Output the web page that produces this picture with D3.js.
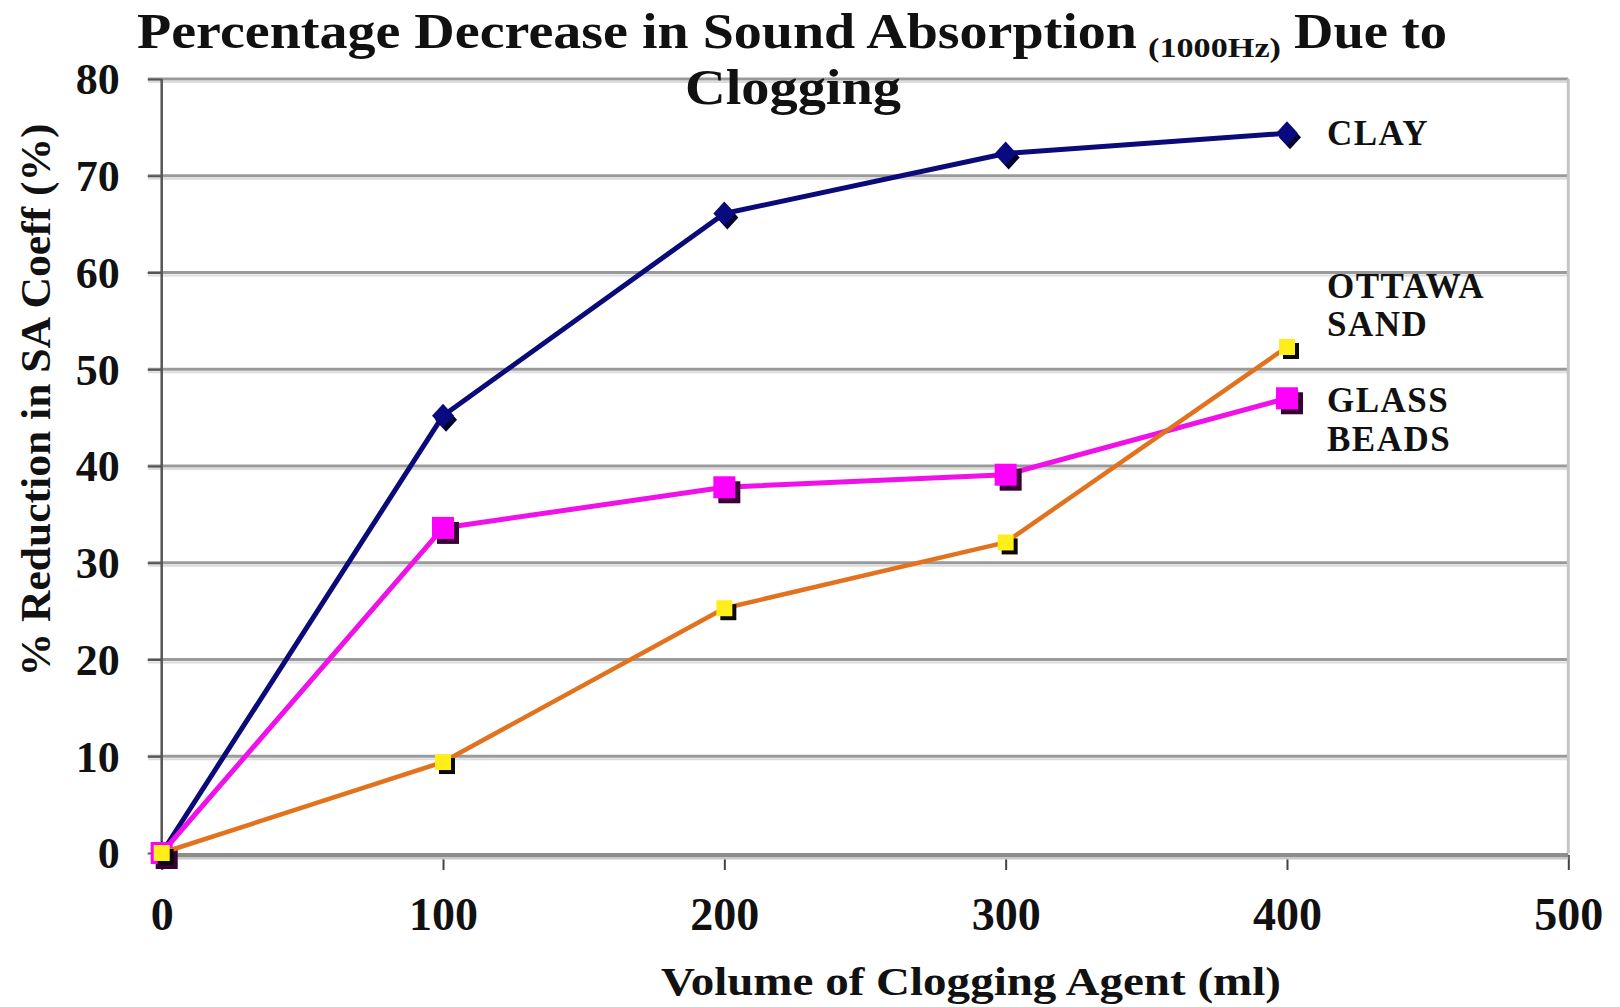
<!DOCTYPE html>
<html>
<head>
<meta charset="utf-8">
<script src="https://cdnjs.cloudflare.com/ajax/libs/d3/7.8.5/d3.min.js"></script>
<style>
    body { margin: 0; background: #fff; }
    svg text { font-family: "Liberation Serif", "Times New Roman", serif; font-weight: bold; fill: #111; }
</style>
</head>
<body>
<div id="vis"></div>
<script>
// Data
var volumes = [0, 100, 200, 300, 400];
var clay = [0, 45.2, 66.1, 72.3, 74.4];
var glassBeads = [0, 33.6, 37.8, 39.1, 47.0];
var ottawaSand = [0, 9.4, 25.3, 32.1, 52.3];
var xTicks = [0, 100, 200, 300, 400, 500];
var yTicks = [0, 10, 20, 30, 40, 50, 60, 70, 80];

// Height and width of total area
var width = 1620;
var height = 1007;

var svg = d3.select('#vis')
    .append('svg')
    .attr('width', width)
    .attr('height', height);

// Scales
var xScale = d3.scaleLinear().domain([0, 500]).range([161.7, 1568.3]);
var yScale = d3.scaleLinear().domain([0, 80]).range([853, 79]);

// Fit a text to a given width (the original font is wider than Times)
var fit = function(sel, w) {
    sel.attr('textLength', w).attr('lengthAdjust', 'spacingAndGlyphs');
};

// Gridlines (gray with a pale line underneath)
var grid = svg.append('g');
grid.selectAll('line.g2')
    .data(yTicks.slice(1))
    .enter().append('line')
    .attr('x1', 148).attr('x2', xScale(500))
    .attr('y1', function(d) { return yScale(d) + 3; })
    .attr('y2', function(d) { return yScale(d) + 3; })
    .attr('stroke', '#dcdcdc').attr('stroke-width', 2);
grid.selectAll('line.g1')
    .data(yTicks.slice(1))
    .enter().append('line')
    .attr('x1', 148).attr('x2', xScale(500))
    .attr('y1', function(d) { return yScale(d); })
    .attr('y2', function(d) { return yScale(d); })
    .attr('stroke', '#9a9a9a').attr('stroke-width', 3);

// Right border of the plot area
svg.append('line')
    .attr('x1', xScale(500)).attr('x2', xScale(500))
    .attr('y1', yScale(80)).attr('y2', yScale(0))
    .attr('stroke', '#c4c4c4').attr('stroke-width', 3);

// Y axis
var yAxis = d3.axisLeft(yScale)
    .tickValues(yTicks)
    .tickSize(14)
    .tickPadding(28);
var yAxisG = svg.append('g')
    .attr('transform', 'translate(' + xScale(0) + ',0)')
    .call(yAxis);
yAxisG.select('.domain').remove();
yAxisG.selectAll('line').attr('stroke', '#555').attr('stroke-width', 2);
yAxisG.selectAll('text')
    .style('font-size', '44px')
    .attr('dy', '0.34em');

// X axis
var xAxis = d3.axisBottom(xScale)
    .tickValues(xTicks)
    .tickSize(15)
    .tickPadding(27);
var xAxisG = svg.append('g')
    .attr('transform', 'translate(0,855)')
    .call(xAxis);
xAxisG.select('.domain').remove();
xAxisG.selectAll('line').attr('stroke', '#444').attr('stroke-width', 2);
xAxisG.selectAll('text')
    .style('font-size', '46px');

// Axis lines
svg.append('line')
    .attr('x1', xScale(0)).attr('x2', xScale(500))
    .attr('y1', 858).attr('y2', 858)
    .attr('stroke', '#c8c8c8').attr('stroke-width', 3);
svg.append('line')
    .attr('x1', xScale(0)).attr('x2', xScale(500))
    .attr('y1', 855).attr('y2', 855)
    .attr('stroke', '#8c8c8c').attr('stroke-width', 4);
svg.append('line')
    .attr('x1', xScale(0)).attr('x2', xScale(0))
    .attr('y1', yScale(80)).attr('y2', 856)
    .attr('stroke', '#555').attr('stroke-width', 2.5);

// Series
var series = [
    { name: 'clay', values: clay, line: '#0a0a78', fill: '#0a0a80', shadow: '#000028', shape: 'diamond', w: 5 },
    { name: 'glass', values: glassBeads, line: '#f010e8', fill: '#ff00ff', shadow: '#3a0036', shape: 'bigSquare', w: 5 },
    { name: 'ottawa', values: ottawaSand, line: '#e2721e', fill: '#ffee1a', shadow: '#0a0a0a', shape: 'smallSquare', w: 4.5 }
];

var shapes = {
    diamond: { path: 'M0,-12L11,0L0,12L-11,0Z', dx: 3, dy: 4 },
    bigSquare: { path: 'M-11,-11H11V11H-11Z', dx: 5, dy: 5 },
    smallSquare: { path: 'M-8,-8H8V8H-8Z', dx: 4, dy: 4 }
};

var line = d3.line()
    .x(function(d, i) { return xScale(volumes[i]); })
    .y(function(d) { return yScale(d); });

series.forEach(function(s) {
    var g = svg.append('g').attr('class', s.name);
    g.append('path')
        .datum(s.values)
        .attr('d', line)
        .attr('fill', 'none')
        .attr('stroke', s.line)
        .attr('stroke-width', s.w)
        .attr('stroke-linejoin', 'round');
    var shp = shapes[s.shape];
    // shadow behind marker
    g.selectAll('path.shadow')
        .data(s.values)
        .enter().append('path')
        .attr('class', 'shadow')
        .attr('d', shp.path)
        .attr('fill', s.shadow)
        .attr('transform', function(d, i) {
            return 'translate(' + (xScale(volumes[i]) + shp.dx) + ',' + (yScale(d) + shp.dy) + ')';
        });
    g.selectAll('path.mark')
        .data(s.values)
        .enter().append('path')
        .attr('class', 'mark')
        .attr('d', shp.path)
        .attr('fill', s.fill)
        .attr('transform', function(d, i) {
            return 'translate(' + xScale(volumes[i]) + ',' + yScale(d) + ')';
        });
});

// Series labels
var labels = [
    { text: 'CLAY', y: 145 },
    { text: 'OTTAWA', y: 298 },
    { text: 'SAND', y: 336 },
    { text: 'GLASS', y: 412 },
    { text: 'BEADS', y: 451 }
];
svg.selectAll('text.lab')
    .data(labels)
    .enter().append('text')
    .attr('class', 'lab')
    .attr('x', 1327)
    .attr('y', function(d) { return d.y; })
    .style('font-size', '35px')
    .style('letter-spacing', '1.5px')
    .text(function(d) { return d.text; });

// Title
svg.append('text')
    .attr('x', 137).attr('y', 48)
    .style('font-size', '50px')
    .text('Percentage Decrease in Sound Absorption')
    .call(fit, 1000);
svg.append('text')
    .attr('x', 1148).attr('y', 57)
    .style('font-size', '27px')
    .text('(1000Hz)')
    .call(fit, 133);
svg.append('text')
    .attr('x', 1294).attr('y', 48)
    .style('font-size', '50px')
    .text('Due to')
    .call(fit, 153);
svg.append('text')
    .attr('x', 793).attr('y', 104)
    .attr('text-anchor', 'middle')
    .style('font-size', '50px')
    .text('Clogging')
    .call(fit, 216);

// Axis titles
svg.append('text')
    .attr('transform', 'translate(50,400) rotate(-90)')
    .attr('text-anchor', 'middle')
    .style('font-size', '42px')
    .text('% Reduction in SA Coeff  (%)')
    .call(fit, 553);
svg.append('text')
    .attr('x', 971).attr('y', 995)
    .attr('text-anchor', 'middle')
    .style('font-size', '41px')
    .text('Volume of Clogging  Agent (ml)')
    .call(fit, 620);
</script>
</body>
</html>
